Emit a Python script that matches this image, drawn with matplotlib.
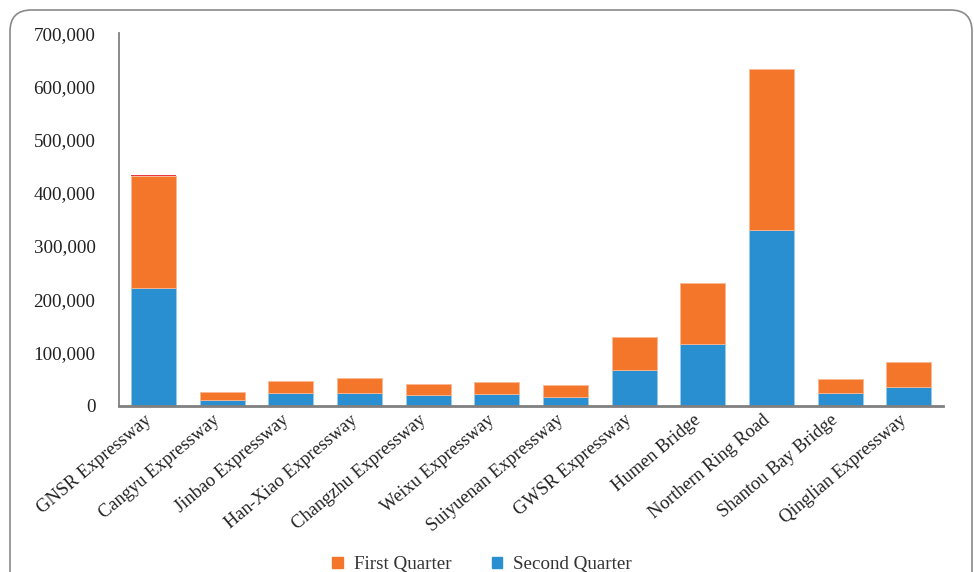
import matplotlib.pyplot as plt
from matplotlib.patches import FancyBboxPatch, Patch
from matplotlib.ticker import FuncFormatter
from matplotlib.transforms import ScaledTranslation

roads = ['GNSR Expressway', 'Cangyu Expressway', 'Jinbao Expressway', 'Han-Xiao Expressway',
         'Changzhu Expressway', 'Weixu Expressway', 'Suiyuenan Expressway', 'GWSR Expressway',
         'Humen Bridge', 'Northern Ring Road', 'Shantou Bay Bridge', 'Qinglian Expressway']
second_q = [221000, 9600, 23100, 23000, 19200, 21100, 15400, 67700, 114800, 330400, 24500, 35800]
first_q = [210000, 15200, 23400, 29300, 21300, 22600, 23200, 60800, 114800, 303000, 25000, 45700]
extra = [1800, 0, 0, 0, 0, 0, 0, 0, 0, 0, 0, 0]

plt.rcParams['font.family'] = ['Liberation Serif', 'DejaVu Serif']

fig = plt.figure(figsize=(9.74, 5.72), dpi=100)
ax = fig.add_axes([0.1222, 0.291, 0.846, 0.651])

x = range(len(roads))
blue = '#298FD0'
orange = '#F4762A'
ax.bar(x, second_q, width=0.655, color=blue, edgecolor='#9CCBEA', linewidth=0.6)
ax.bar(x, first_q, width=0.655, bottom=second_q, color=orange, edgecolor='#F8B894', linewidth=0.6)
tops = [a + b for a, b in zip(second_q, first_q)]
ax.bar(x, extra, width=0.655, bottom=tops, color='#E8383D', linewidth=0)

ax.set_ylim(0, 700000)
ax.set_xlim(-0.5, 11.5)
ax.set_yticks(range(0, 700001, 100000))
ax.yaxis.set_major_formatter(FuncFormatter(lambda v, p: f'{int(v):,}'))
ax.set_xticks(list(x))
ax.set_xticklabels(roads, rotation=40, ha='right', va='center', rotation_mode='anchor', fontsize=13.3)
ax.tick_params(axis='both', length=0, colors='#222222')
ax.tick_params(axis='y', pad=17, labelsize=13.7)
ax.tick_params(axis='x', pad=9)

# nudge the slanted labels a little left
shift = ScaledTranslation(-4 / 100, 0, fig.dpi_scale_trans)
for lbl in ax.get_xticklabels():
    lbl.set_transform(lbl.get_transform() + shift)

for s in ['top', 'right']:
    ax.spines[s].set_visible(False)
ax.spines['left'].set_color('#808080')
ax.spines['left'].set_linewidth(1.3)
ax.spines['bottom'].set_color('#808080')
ax.spines['bottom'].set_linewidth(2)

handles = [Patch(color=orange, label='First Quarter'), Patch(color=blue, label='Second Quarter')]
fig.legend(handles=handles, loc='center', bbox_to_anchor=(0.495, 0.013), ncol=2, frameon=False,
           fontsize=13.7, handlelength=0.55, handleheight=0.55, columnspacing=2.1, handletextpad=0.6,
           labelcolor='#333333')

box = FancyBboxPatch((10 / 974, -0.05), 962 / 974, (572 - 10) / 572 + 0.05,
                     boxstyle='round,pad=0,rounding_size=0.022', transform=fig.transFigure,
                     facecolor='none', edgecolor='#8a8a8a', linewidth=1.2, mutation_aspect=974 / 572)
fig.patches.append(box)

fig.savefig('out.png', dpi=100)
